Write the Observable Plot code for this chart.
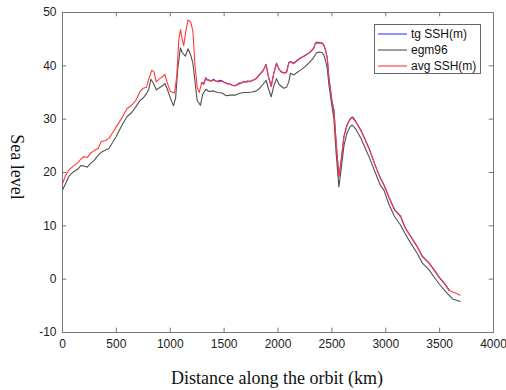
<!DOCTYPE html>
<html><head><meta charset="utf-8">
<script src="https://cdn.jsdelivr.net/npm/d3@7"></script>
<script src="https://cdn.jsdelivr.net/npm/@observablehq/plot@0.6"></script>
<style>body{margin:0;background:#fff}#c{position:relative;width:506px;height:390px}</style>
</head><body><div id="c"></div>
<script>
const xTicks = [0,500,1000,1500,2000,2500,3000,3500,4000];
const yTicks = [-10,0,10,20,30,40,50];
const seriesNames = ["tg SSH(m)", "egm96", "avg SSH(m)"];

const avgDist = [0,30,60,100,140,170,200,230,260,300,330,360,400,430,470,500,550,600,640,680,720,750,780,800,830,850,870,900,930,950,970,1000,1040,1060,1080,1095,1110,1125,1145,1165,1190,1210,1230,1250,1270,1290,1310,1330,1360,1400,1440,1480,1520,1560,1600,1640,1680,1720,1760,1800,1830,1860,1890,1910,1937,1960,1986,2010,2054,2080,2100,2116,2147,2180,2209,2260,2302,2330,2348,2380,2410,2426,2441,2457,2472,2500,2519,2540,2565,2585,2612,2640,2670,2689,2720,2767,2800,2850,2906,2950,2983,3030,3080,3138,3180,3230,3293,3340,3400,3448,3500,3550,3587,3620,3660,3690];
const avgSSH = [17.9,19.5,20.5,21.2,21.8,22.5,23.0,22.8,23.6,24.2,24.5,25.8,26.0,26.4,27.6,28.6,30.2,32.0,32.6,33.5,35.2,35.8,36.0,37.5,39.2,38.8,37.0,37.6,38.0,38.4,37.0,35.2,34.9,38.0,45.0,46.8,45.0,43.8,46.5,48.6,48.2,46.5,40.0,36.0,35.0,36.8,36.5,37.6,37.2,37.3,37.0,37.1,36.7,36.5,36.2,36.6,37.0,37.0,37.2,37.6,38.3,39.0,40.2,38.0,36.1,38.5,40.4,39.3,38.6,38.7,40.5,40.7,40.4,41.0,41.4,42.0,42.6,43.2,44.2,44.3,44.2,43.8,42.9,41.5,37.9,33.5,31.7,25.5,19.2,22.0,26.7,28.8,30.0,30.3,29.5,27.9,26.5,24.2,21.1,18.9,17.6,15.3,13.0,11.7,9.6,8.0,6.0,4.2,3.0,1.7,0.2,-1.0,-2.1,-2.4,-2.7,-3.0];

const egmDist = [0,30,60,100,140,170,200,230,260,300,330,360,400,430,470,500,550,600,640,680,720,750,780,800,821,850,870,900,930,950,970,1000,1030,1050,1070,1094,1110,1140,1165,1190,1210,1230,1250,1280,1300,1330,1360,1400,1440,1480,1520,1560,1600,1640,1680,1720,1760,1800,1830,1860,1890,1910,1937,1960,1986,2010,2054,2080,2100,2116,2147,2180,2209,2260,2302,2330,2355,2380,2410,2426,2441,2457,2472,2500,2519,2540,2565,2585,2612,2640,2670,2689,2720,2767,2800,2850,2906,2950,2983,3030,3080,3138,3180,3230,3293,3340,3400,3448,3500,3550,3587,3620,3665,3690];
const egm96 = [16.7,18.0,19.3,20.1,20.6,21.3,21.2,21.0,21.7,22.4,23.2,23.8,24.2,24.5,25.8,26.8,28.8,30.5,31.2,32.3,33.5,34.0,34.8,35.6,37.5,36.5,35.5,35.9,36.3,36.7,35.8,34.0,32.5,34.0,39.5,43.4,42.5,41.8,43.2,42.0,40.5,37.0,33.5,32.6,34.6,35.6,35.2,35.3,35.0,34.9,34.4,34.5,34.5,34.8,35.0,35.0,35.1,35.3,35.8,36.5,37.3,35.8,34.2,36.2,37.6,36.5,35.8,36.0,37.0,38.6,38.3,38.8,39.2,40.0,40.9,41.5,42.4,42.6,42.5,42.0,41.0,39.5,36.5,32.5,30.0,23.5,17.3,20.5,25.0,27.4,28.6,28.9,28.2,26.5,25.0,22.7,19.8,17.6,16.7,14.0,11.8,10.1,8.5,6.8,4.8,3.0,1.8,0.4,-1.0,-2.2,-3.0,-3.7,-4.0,-4.2];

const tgDist = [1290,1310,1330,1345,1360,1380,1400,1420,1440,1460,1480,1500,1520,1540,1560,1580,1600,1620,1640,1660,1680,1700,1720,1740,1760,1780,1800,1830,1860,1890,1910,1937,1960,1986,2010,2030,2054,2080,2100,2116,2147,2180,2209,2230,2260,2280,2302,2330,2348,2365,2380,2395,2410,2426,2441,2457,2472,2500,2519,2540,2565,2585,2612,2640,2670,2689,2700,2720,2767,2800,2850,2906,2950,2983,3030,3080,3138,3180,3230,3293,3340,3400,3448,3500,3550,3587];
const tgSSH = [36.9,36.7,37.8,37.3,37.4,37.1,37.5,37.2,37.1,37.3,37.2,36.9,36.8,36.6,36.6,36.3,36.3,36.5,36.8,36.7,37.1,36.9,37.2,37.0,37.3,37.4,37.7,38.4,39.1,40.3,38.1,36.2,38.6,40.5,39.4,38.8,38.7,38.9,40.6,40.8,40.5,41.1,41.5,41.7,42.1,42.3,42.7,43.3,44.3,44.4,44.4,44.3,44.3,43.9,43.0,41.5,37.9,33.5,31.7,25.5,19.2,22.0,26.8,28.9,30.1,30.4,30.3,29.6,28.0,26.6,24.3,21.2,19.0,17.7,15.4,13.1,11.8,9.7,8.1,6.1,4.3,3.1,1.8,0.3,-0.9,-2.0];

const colors = ["#3a3aff", "#505050", "#ff3a3a"];
const pts = (ds, vs) => ds.map((d, i) => ({d, v: vs[i]}));
const tg = pts(tgDist, tgSSH), eg = pts(egmDist, egm96), av = pts(avgDist, avgSSH);

const tick = 4.3 * 4000 / 431;
const tickY = 4.3 * 60 / 320;
const plot = Plot.plot({
  width: 506, height: 390,
  marginLeft: 62, marginRight: 13, marginTop: 12, marginBottom: 58,
  style: {fontFamily: "'Liberation Sans', Arial, sans-serif", fontSize: "12px", color: "#222", background: "#fff", overflow: "visible"},
  x: {domain: [0, 4000]},
  y: {domain: [-10, 50]},
  marks: [
    Plot.axisX(xTicks, {tickSize: 0, tickPadding: 7, label: null, fontSize: 12, tickFormat: d => String(d)}),
    Plot.axisY(yTicks, {tickSize: 0, tickPadding: 6, label: null, fontSize: 12, tickFormat: d => String(d)}),
    Plot.ruleX(xTicks, {x: d => d, y1: -10, y2: -10 + tickY, stroke: "#777"}),
    Plot.ruleX(xTicks, {x: d => d, y1: 50, y2: 50 - tickY, stroke: "#777"}),
    Plot.ruleY(yTicks, {y: d => d, x1: 0, x2: tick, stroke: "#777"}),
    Plot.ruleY(yTicks, {y: d => d, x1: 4000, x2: 4000 - tick, stroke: "#777"}),
    Plot.frame({stroke: "#777"}),
    Plot.line(tg, {x: "d", y: "v", stroke: colors[0], strokeWidth: 1.1}),
    Plot.line(eg, {x: "d", y: "v", stroke: colors[1], strokeWidth: 1.1}),
    Plot.line(av, {x: "d", y: "v", stroke: colors[2], strokeWidth: 1.1})
  ]
});
const svg = d3.select(plot);
svg.append("text").attr("x", 277).attr("y", 384).attr("text-anchor", "middle")
  .attr("font-family", "'Liberation Serif', 'Times New Roman', serif").attr("font-size", 18).attr("fill", "#111")
  .text("Distance along the orbit (km)");
svg.append("text").attr("transform", "translate(17,167) rotate(90)").attr("text-anchor", "middle")
  .attr("font-family", "'Liberation Serif', 'Times New Roman', serif").attr("font-size", 18).attr("fill", "#111")
  .attr("dy", "0.35em")
  .text("Sea level");
const lg = svg.append("g").attr("text-anchor", "start");
lg.append("rect").attr("x", 374.5).attr("y", 24.5).attr("width", 106).attr("height", 49)
  .attr("fill", "#fff").attr("stroke", "#666");
seriesNames.forEach((n, i) => {
  const y = 34 + i * 16;
  lg.append("line").attr("x1", 378).attr("x2", 407).attr("y1", y).attr("y2", y).attr("stroke", colors[i]).attr("stroke-width", 1.1);
  lg.append("text").attr("x", 411).attr("y", y).attr("dy", "0.35em").attr("font-size", 12)
    .attr("text-anchor", "start")
    .attr("font-family", "'Liberation Sans', Arial, sans-serif").attr("fill", "#111").text(n);
});
document.getElementById("c").appendChild(plot);
</script></body></html>
